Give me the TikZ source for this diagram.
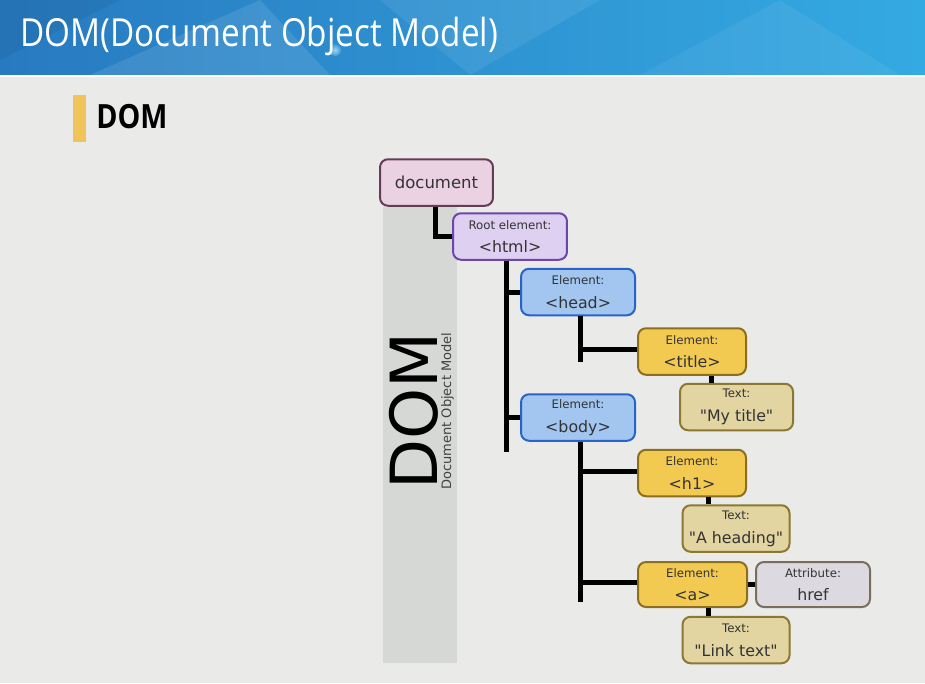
\documentclass[tikz,border=0pt]{standalone}
\usepackage{fontspec}
\setmainfont{DejaVu Sans}
\newfontfamily\titlefont[FakeStretch=0.86]{Open Sans}
\usetikzlibrary{positioning}

\definecolor{bggray}{RGB}{234,234,232}
\definecolor{bandgray}{RGB}{214,216,214}
\definecolor{barblue}{RGB}{40,122,192}
\definecolor{barlight}{RGB}{52,170,226}
\definecolor{markyellow}{RGB}{240,196,90}
\definecolor{docfill}{RGB}{234,210,226}
\definecolor{docline}{RGB}{100,60,85}
\definecolor{rootfill}{RGB}{222,208,240}
\definecolor{rootline}{RGB}{110,70,170}
\definecolor{elemfill}{RGB}{162,198,240}
\definecolor{elemline}{RGB}{40,100,200}
\definecolor{yelfill}{RGB}{242,202,82}
\definecolor{yelline}{RGB}{140,110,30}
\definecolor{txtfill}{RGB}{226,213,162}
\definecolor{txtline}{RGB}{140,120,50}
\definecolor{attrfill}{RGB}{221,217,225}
\definecolor{attrline}{RGB}{120,110,90}

\newcommand{\twolines}[2]{{\fontsize{6.7}{7.5}\selectfont #1}\\#2}

\tikzset{
  box/.style={draw, rounded corners=1.6mm, line width=0.4mm, minimum height=0.93cm,
    align=center, inner sep=1pt, text=black!80, font=\fontsize{9}{13.5}\selectfont},
  docbox/.style={box, fill=docfill, draw=docline, minimum width=2.26cm, font=\fontsize{9.4}{11}\selectfont},
  rootbox/.style={box, fill=rootfill, draw=rootline, minimum width=2.28cm},
  elembox/.style={box, fill=elemfill, draw=elemline, minimum width=2.28cm},
  yelbox/.style={box, fill=yelfill, draw=yelline, minimum width=2.16cm},
  txtbox/.style={box, fill=txtfill, draw=txtline, minimum width=2.14cm},
  attrbox/.style={box, fill=attrfill, draw=attrline, minimum width=2.28cm},
  link/.style={line width=1mm}
}

\begin{document}
\begin{tikzpicture}[x=0.02cm, y=-0.02cm]
	% 背景
	\useasboundingbox (0,0) rectangle (925,683);
	\fill [bggray] (0,0) rectangle (925,683);
	% 标题栏
	\shade [left color=barblue, right color=barlight] (0,0) rectangle (925,75);
	\fill [white, opacity=0.10] (90,75) -- (260,0) -- (330,75) -- cycle;
	\fill [white, opacity=0.08] (380,0) -- (600,0) -- (470,75) -- cycle;
	\fill [white, opacity=0.06] (640,75) -- (780,0) -- (900,75) -- cycle;
	\fill [black, opacity=0.06] (0,0) -- (120,0) -- (0,60) -- cycle;
	\shade [inner color=white, outer color=barlight, opacity=0.6] (335,50) circle (6);
	\fill [white] (0,75) rectangle (925,77);
	\node (title) [anchor=west, text=white, font=\titlefont\fontsize{22}{26}\selectfont] at (14,36) {DOM(Document Object Model)};
	% 小标题
	\fill [markyellow] (73,95) rectangle (86,142);
	\node (sub) [anchor=base west, font=\titlefont\fontsize{19}{22}\selectfont\bfseries, inner sep=0pt] at (96,128) {DOM};
	% 竖条
	\fill [bandgray] (383,207) rectangle (457,663);
	\node (big) [rotate=90, anchor=base west, inner sep=0pt, font=\fontsize{37}{40}\selectfont] at (437,490) {DOM};
	\node (small) [rotate=90, anchor=base west, inner sep=0pt, font=\fontsize{7.4}{9}\selectfont, text=black!75] at (451,490) {Document Object Model};
	% 节点
	\node (doc) [docbox] at (436.5,182.5) {document};
	\node (html) [rootbox] at (510,236.5) {\twolines{Root element:}{<html>}};
	\node (head) [elembox] at (578,292) {\twolines{Element:}{<head>}};
	\node (body) [elembox] at (578,417.5) {\twolines{Element:}{<body>}};
	\node (ttl) [yelbox] at (692,351.5) {\twolines{Element:}{<title>}};
	\node (mytitle) [txtbox, minimum width=2.26cm] at (736.5,407) {\twolines{Text:}{\textquotedbl My title\textquotedbl}};
	\node (hone) [yelbox] at (692,473) {\twolines{Element:}{<h1>}};
	\node (heading) [txtbox] at (736,528.5) {\twolines{Text:}{\textquotedbl A heading\textquotedbl}};
	\node (anchor) [yelbox, minimum width=2.18cm, minimum height=0.9cm] at (692.5,584.5) {\twolines{Element:}{<a>}};
	\node (href) [attrbox, minimum height=0.9cm] at (813,584.5) {\twolines{Attribute:}{href}};
	\node (linktext) [txtbox] at (736,640) {\twolines{Text:}{\textquotedbl Link text\textquotedbl}};
	% 连线
	\coordinate (htmlend) at (506,452);
	\coordinate (headend) at (580,362);
	\coordinate (bodyend) at (580,602);
	\coordinate (x1) at (711,0);
	\coordinate (x2) at (708,0);
	\draw [link] (doc.south -| 435,0) |- (html.west);
	\draw [link] (html.south -| htmlend) -- (htmlend);
	\draw [link] (head.west) -- (head.west -| htmlend);
	\draw [link] (body.west) -- (body.west -| htmlend);
	\draw [link] (head.south -| headend) -- (headend);
	\draw [link] (ttl.west |- 0,349) -- (headend |- 0,349);
	\draw [link] (body.south -| bodyend) -- (bodyend);
	\draw [link] (hone.west |- 0,471) -- (bodyend |- 0,471);
	\draw [link] (anchor.west |- 0,582) -- (bodyend |- 0,582);
	\draw [link] (ttl.south -| x1) -- (mytitle.north -| x1);
	\draw [link] (hone.south -| x2) -- (heading.north -| x2);
	\draw [link] (anchor.south -| x2) -- (linktext.north -| x2);
	\draw [link] (anchor.east) -- (href.west);
\end{tikzpicture}
\end{document}
